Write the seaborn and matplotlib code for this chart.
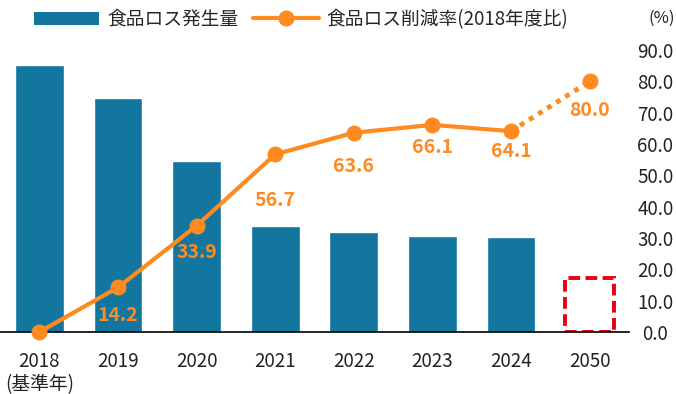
import numpy as np
import pandas as pd
import matplotlib
matplotlib.use("Agg")
import matplotlib.pyplot as plt
import seaborn as sns
from matplotlib.lines import Line2D
from matplotlib.patches import Patch

# データ
years = ["2018", "2019", "2020", "2021", "2022", "2023", "2024", "2050"]
tick_labels = ["2018\n(基準年)", "2019", "2020", "2021", "2022", "2023", "2024", "2050"]
loss_amount = [85.2, 74.6, 54.6, 33.8, 31.9, 30.6, 30.3]      # 食品ロス発生量 (2018-2024)
target_2050 = 17.2                                              # 2050年 目標枠
reduction_rate = [0.0, 14.2, 33.9, 56.7, 63.6, 66.1, 64.1, 80.0]  # 削減率 (%)
label_dy = [0, 20, 19, 33, 24, 16, 15, 21]                       # ラベルの下方向オフセット(pt)

BLUE = "#12769e"
ORANGE = "#ff8a1f"
RED = "#e60012"

sns.set_style("white")
plt.rcParams["font.family"] = ["Noto Sans CJK JP", "DejaVu Sans"]

fig = plt.figure(figsize=(6.76, 3.94), dpi=100)
ax = fig.add_axes([0.0, 0.1574, 0.9305, 0.7157])

df = pd.DataFrame({"year": years[:7], "amount": loss_amount})
sns.barplot(data=df, x="year", y="amount", order=years, color=BLUE,
            width=0.62, saturation=1, ax=ax)
# 2050年の目標(点線の枠)
ax.bar(7, target_2050, width=0.62, fill=False, edgecolor=RED,
       linewidth=2.8, linestyle=(0, (3, 1.4)))

ax.set_xlim(-0.5, 7.5)
ax.set_ylim(0, 90)
ax.set_xlabel("")
ax.set_ylabel("")
ax.set_yticks([])
ax.set_xticks(range(len(years)))
ax.set_xticklabels(tick_labels, fontsize=13.5, color="#222222", linespacing=1.1)
ax.tick_params(axis="x", length=0, pad=14)
for s in ["top", "left", "right"]:
    ax.spines[s].set_visible(False)
ax.spines["bottom"].set_color("black")
ax.spines["bottom"].set_linewidth(1.2)

# 削減率(右軸)
ax2 = ax.twinx()
xs = np.arange(len(years))
line_df = pd.DataFrame({"x": xs[:7], "rate": reduction_rate[:7]})
sns.lineplot(data=line_df, x="x", y="rate", color=ORANGE, linewidth=3,
             marker="o", markersize=11.5, markeredgewidth=0, ax=ax2, clip_on=False)
ax2.plot(xs[6:], reduction_rate[6:], color=ORANGE, linewidth=3.5,
         linestyle=(0, (1, 1.2)))
ax2.plot(xs[7], reduction_rate[7], "o", color=ORANGE, markersize=11.5,
         markeredgewidth=0)

for i in range(1, len(years)):
    ax2.annotate(f"{reduction_rate[i]:.1f}", (xs[i], reduction_rate[i]),
                 xytext=(0, -label_dy[i]), textcoords="offset points",
                 ha="center", va="center", fontsize=14, fontweight="bold",
                 color=ORANGE)

ax2.set_ylim(0, 90)
ax2.set_yticks(np.arange(0, 91, 10))
ax2.set_yticklabels([f"{v:.1f}" for v in np.arange(0, 91, 10)], fontsize=13.5,
                    color="#222222", ha="center")
ax2.tick_params(axis="y", length=0, pad=19)
ax2.set_xlabel("")
ax2.set_ylabel("")
for s in ["top", "left", "right", "bottom"]:
    ax2.spines[s].set_visible(False)

fig.text(0.979, 1 - 18 / 394, "(%)", ha="center", va="center", fontsize=12,
         color="#222222")

handles = [Patch(facecolor=BLUE, edgecolor="none"),
           Line2D([], [], color=ORANGE, linewidth=3, marker="o", markersize=11.5,
                  markeredgewidth=0)]
fig.legend(handles, ["食品ロス発生量", "食品ロス削減率(2018年度比)"],
           loc="upper left", bbox_to_anchor=(0.025, 1.02), ncol=2, frameon=False,
           fontsize=13.5, handlelength=3.5, handletextpad=0.4,
           columnspacing=0.8)

fig.savefig("out.png", dpi=100)
